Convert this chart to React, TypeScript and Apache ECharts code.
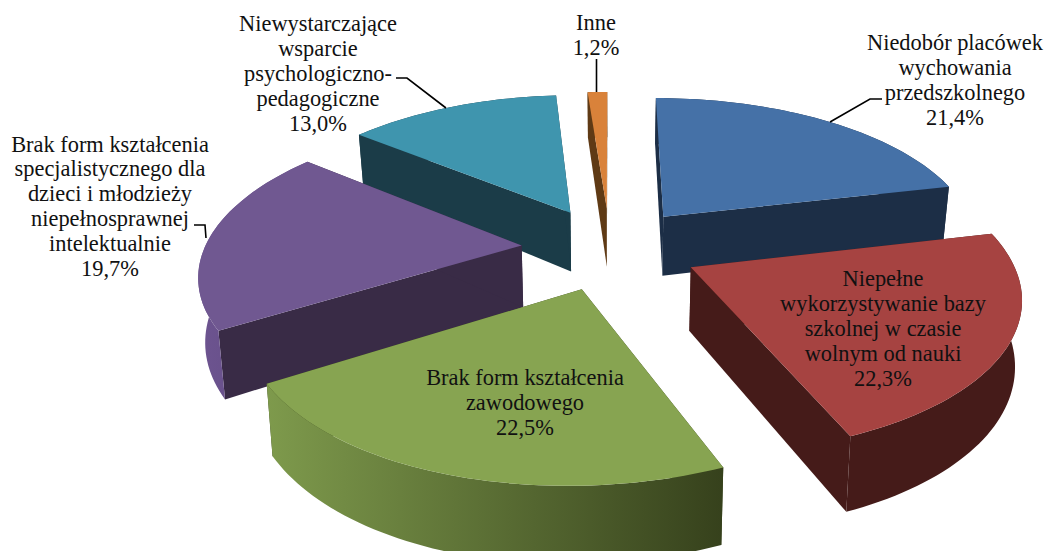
import React, { useEffect, useRef } from "react";
import * as echarts from "echarts";

// ---- data ----
const categories = [
  "Niedobór placówek\nwychowania\nprzedszkolnego",
  "Niepełne\nwykorzystywanie bazy\nszkolnej w czasie\nwolnym od nauki",
  "Brak form kształcenia\nzawodowego",
  "Brak form kształcenia\nspecjalistycznego dla\ndzieci i młodzieży\nniepełnosprawnej\nintelektualnie",
  "Niewystarczające\nwsparcie\npsychologiczno-\npedagogiczne",
  "Inne",
];
const values = [21.4, 22.3, 22.5, 19.7, 13.0, 1.2];

// ---- styles ----
const topColors = ["#4571A7", "#A64341", "#87A451", "#705891", "#3F95AE", "#D9823A"];
const cutColors = ["#1C2E46", "#451B19", "#36411C", "#392B46", "#1B3C48", "#5F3A15"];
const wallStops: string[][] = [
  ["#1C2E46", "#1C2E46"],
  ["#451B19", "#451B19"],
  ["#7E9A4C", "#36411C"],
  ["#6D5490", "#5E4980"],
  ["#1B3C48", "#1B3C48"],
  ["#5F3A15", "#5F3A15"],
];
const paintOrder = [4, 5, 0, 3, 1, 2];

// ---- label layout: [centre x, centre y, line height] ----
const labelLayout = [
  [955, 79.5, 25],
  [883, 328.5, 25],
  [525, 402, 25],
  [110, 206, 24.8],
  [318, 73, 25],
  [596, 34.5, 25],
];
const leaders = [
  [[882, 99], [870, 99], [830, 122]],
  null,
  null,
  [[194, 225], [205, 225], [206, 238]],
  [[396, 78], [407, 78], [446, 108]],
  [[596.5, 59], [596.5, 92]],
];

// ---- projection of the pie plane ----
const CX = 610, CY = 248, RX = 317, RY = 148, K = 0.167, EXPLODE = 0.28;
const START_DEG = 0;

const project = (u: number, v: number): number[] => {
  const s = 1 / (1 - K * v);
  const skew = v > 0 ? 4 * v * v * v : 0;
  return [CX + RX * u * s - skew, CY + RY * v * s];
};
const lower = (u: number, v: number): number[] => {
  const p = project(u, v);
  return [CX + (p[0] - CX) * 0.983, p[1] + 62 + 13 * v];
};

const total = values.reduce((a, b) => a + b, 0);
const sweeps = values.map((v) => (v / total) * 360);
const starts = sweeps.map((_, i) => START_DEG + sweeps.slice(0, i).reduce((a, b) => a + b, 0));

const unit = (deg: number) => {
  const r = (deg * Math.PI) / 180;
  return [Math.sin(r), -Math.cos(r)];
};

const renderItem = (_params: any, api: any) => {
  const i = api.value(0) as number;
  const a0 = starts[i];
  const sweep = (api.value(1) / total) * 360;
  const mid = unit(a0 + sweep / 2);
  const ox = mid[0] * EXPLODE, oy = mid[1] * EXPLODE;

  const steps = Math.max(4, Math.ceil(sweep / 1.5));
  const rim: number[][] = [];
  for (let n = 0; n <= steps; n++) {
    const d = unit(a0 + (sweep * n) / steps);
    rim.push([ox + d[0], oy + d[1]]);
  }
  const topRim = rim.map((p) => project(p[0], p[1]));
  const lowRim = rim.map((p) => lower(p[0], p[1]));
  const apex = project(ox, oy);
  const apexLow = lower(ox, oy);
  const z = paintOrder.indexOf(i) * 10;

  const poly = (points: number[][], fill: any, z2: number) => ({
    type: "polygon",
    z2,
    shape: { points },
    style: { fill, stroke: null },
  });

  return {
    type: "group",
    children: [
      poly([apex, topRim[0], lowRim[0], apexLow], cutColors[i], z),
      poly([apex, topRim[steps], lowRim[steps], apexLow], cutColors[i], z + 1),
      poly(
        [...topRim, ...lowRim.slice().reverse()],
        new echarts.graphic.LinearGradient(0, 0, 1, 0, [
          { offset: 0, color: wallStops[i][0] },
          { offset: 1, color: wallStops[i][1] },
        ]),
        z + 2
      ),
      poly([apex, ...topRim], topColors[i], z + 3),
    ],
  };
};

const pct = (v: number) => v.toFixed(1).replace(".", ",") + "%";

export default function App() {
  const ref = useRef<HTMLDivElement>(null);
  useEffect(() => {
    document.body.style.margin = "0";
    const chart = echarts.init(ref.current!, null, { renderer: "svg" });
    const graphics: any[] = [];
    categories.forEach((name, i) => {
      const [x, y, lh] = labelLayout[i];
      graphics.push({
        type: "text",
        z: 20,
        silent: true,
        style: {
          text: name + "\n" + pct(values[i]),
          x,
          y,
          align: "center",
          verticalAlign: "middle",
          font: '22.4px "Liberation Serif"',
          lineHeight: lh,
          fill: "#111111",
        },
      });
      const l = leaders[i];
      if (l) {
        graphics.push({
          type: "polyline",
          z: 20,
          silent: true,
          shape: { points: l },
          style: { stroke: "#000000", lineWidth: 1.6, fill: null },
        });
      }
    });
    chart.setOption({
      animation: false,
      backgroundColor: "#ffffff",
      graphic: graphics,
      series: [
        {
          type: "custom",
          coordinateSystem: "none",
          silent: true,
          clip: false,
          renderItem,
          dimensions: ["index", "value"],
          data: paintOrder.map((i) => [i, values[i]]),
        },
      ],
    });
    return () => chart.dispose();
  }, []);
  return <div ref={ref} style={{ width: 1048, height: 551 }} />;
}
